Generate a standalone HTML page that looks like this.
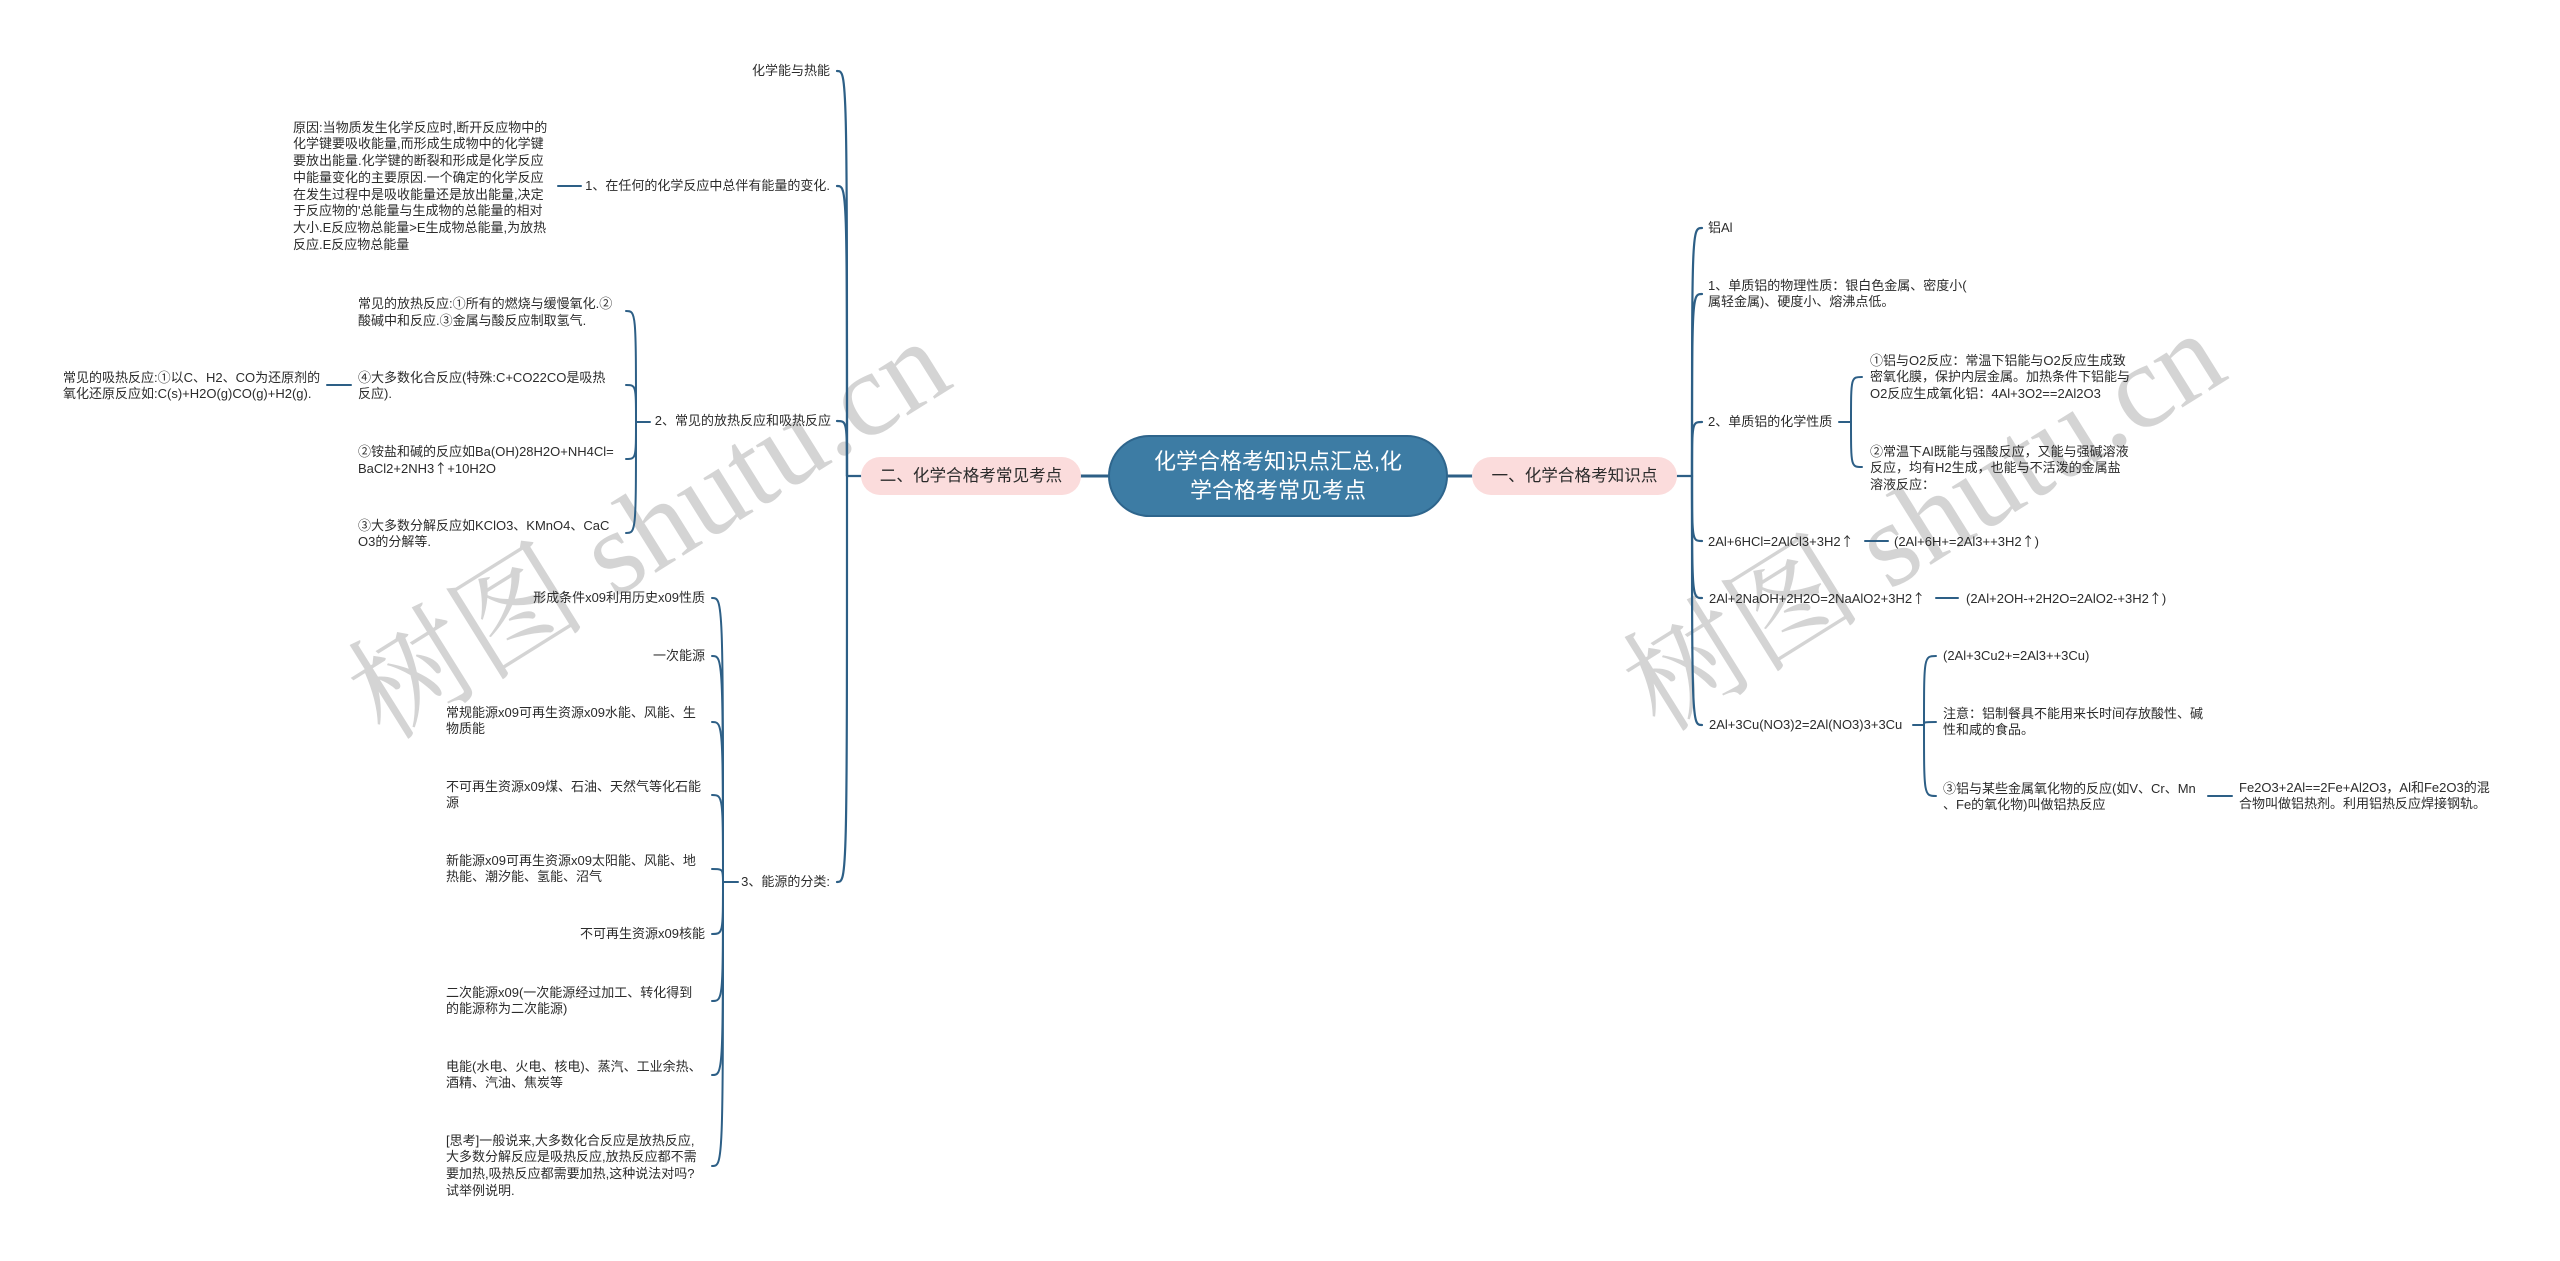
<!DOCTYPE html>
<html>
<head>
<meta charset="utf-8">
<style>
  html,body{margin:0;padding:0;background:#fff;}
  #root{position:relative;width:2560px;height:1261px;overflow:hidden;background:#fff;
    font-family:"Liberation Sans","Noto Sans CJK SC",sans-serif;}
  svg{position:absolute;left:0;top:0;}
  .t{position:absolute;font-size:13px;line-height:16.7px;white-space:nowrap;color:#2b2b2b;}
  .r{text-align:right;}
  .c{font-family:"Noto Sans CJK SC",sans-serif;}
  .center{position:absolute;left:1108px;top:435px;width:340px;height:82px;box-sizing:border-box;
    border-radius:41px;background:#3d7ca4;border:2px solid #2e658c;color:#fff;font-size:22px;line-height:29px;
    display:flex;align-items:center;justify-content:center;text-align:center;}
  .pink{position:absolute;top:457px;height:38px;border-radius:19px;background:#fbdcdc;color:#2b2b2b;
    font-size:16.6px;line-height:38px;text-align:center;white-space:nowrap;}
</style>
</head>
<body>
<div id="root">
<svg width="2560" height="1261" viewBox="0 0 2560 1261">
  <g font-family="'Liberation Serif','Noto Serif CJK SC',serif" font-size="120" fill="#000" fill-opacity="0.17">
    <text x="385" y="742" transform="rotate(-32 385 742)">树图 shutu.cn</text>
    <text x="1660" y="734" transform="rotate(-32 1660 734)">树图 shutu.cn</text>
  </g>
  <g fill="none" stroke="#2d5f86" stroke-linecap="round">
    <line x1="1081" y1="476" x2="1108" y2="476" stroke-width="3"/>
    <line x1="1448" y1="476" x2="1472" y2="476" stroke-width="3"/>
    <g stroke-width="2.2">
      <line x1="861" y1="476" x2="847" y2="476"/>
      <path d="M847 476 C847 71 847 71 837 71"/>
      <path d="M847 476 C847 186 847 186 837 186"/>
      <path d="M847 476 C847 421 847 421 837 421"/>
      <path d="M847 476 C847 882 847 882 837 882"/>
    </g>
    <g stroke-width="2.2">
      <line x1="1677" y1="476" x2="1692" y2="476"/>
      <path d="M1692 476 C1692 228 1692 228 1702 228"/>
      <path d="M1692 476 C1692 294 1692 294 1702 294"/>
      <path d="M1692 476 C1692 422 1692 422 1702 422"/>
      <path d="M1692 476 C1692 541 1692 541 1702 541"/>
      <path d="M1692 476 C1692 598 1692 598 1702 598"/>
      <path d="M1692 476 C1692 725 1692 725 1702 725"/>
    </g>
    <g stroke-width="2">
      <line x1="558" y1="186" x2="581" y2="186"/>
      <line x1="327" y1="385" x2="351" y2="385"/>
      <line x1="1865" y1="541" x2="1888" y2="541"/>
      <line x1="1936" y1="598" x2="1958" y2="598"/>
      <line x1="2208" y1="796" x2="2232" y2="796"/>
      <line x1="650" y1="422" x2="636" y2="422"/>
      <path d="M636 422 C636 311 636 311 626 311"/>
      <path d="M636 422 C636 385 636 385 626 385"/>
      <path d="M636 422 C636 459 636 459 626 459"/>
      <path d="M636 422 C636 533 636 533 626 533"/>
      <line x1="738" y1="882" x2="723" y2="882"/>
      <path d="M723 882 C723 598 723 598 712 598"/>
      <path d="M723 882 C723 656 723 656 712 656"/>
      <path d="M723 882 C723 722 723 722 712 722"/>
      <path d="M723 882 C723 795 723 795 712 795"/>
      <path d="M723 882 C723 869 723 869 712 869"/>
      <path d="M723 882 C723 934 723 934 712 934"/>
      <path d="M723 882 C723 1001 723 1001 712 1001"/>
      <path d="M723 882 C723 1075 723 1075 712 1075"/>
      <path d="M723 882 C723 1166 723 1166 712 1166"/>
      <line x1="1839" y1="422" x2="1851" y2="422"/>
      <path d="M1851 422 C1851 377 1851 377 1862 377"/>
      <path d="M1851 422 C1851 467 1851 467 1862 467"/>
      <line x1="1913" y1="725" x2="1924" y2="725"/>
      <path d="M1924 725 C1924 656 1924 656 1936 656"/>
      <path d="M1924 725 C1924 722 1924 722 1936 722"/>
      <path d="M1924 725 C1924 796 1924 796 1936 796"/>
    </g>
  </g>
</svg>

<div class="center"><div>化学合格考知识点汇总,化<br>学合格考常见考点</div></div>
<div class="pink" style="left:861px;width:220px;">二、化学合格考常见考点</div>
<div class="pink" style="left:1472px;width:205px;">一、化学合格考知识点</div>

<div class="t r" style="right:1730px;top:62.7px;">化学能与热能</div>
<div class="t r" style="right:1730px;top:177.7px;">1、在任何的化学反应中总伴有能量的变化.</div>
<div class="t r" style="right:1729px;top:412.7px;">2、常见的放热反应和吸热反应</div>
<div class="t r" style="right:1730px;top:873.7px;">3、能源的分类:</div>

<div class="t" style="left:293px;top:119.7px;">原因:当物质发生化学反应时,断开反应物中的<br>化学键要吸收能量,而形成生成物中的化学键<br>要放出能量.化学键的断裂和形成是化学反应<br>中能量变化的主要原因.一个确定的化学反应<br>在发生过程中是吸收能量还是放出能量,决定<br>于反应物的'总能量与生成物的总能量的相对<br>大小.E反应物总能量&gt;E生成物总能量,为放热<br>反应.E反应物总能量</div>

<div class="t" style="left:358px;top:294.7px;">常见的放热反应:<span class="c">①</span>所有的燃烧与缓慢氧化.<span class="c">②</span><br>酸碱中和反应.<span class="c">③</span>金属与酸反应制取氢气.</div>
<div class="t" style="left:358px;top:368.7px;"><span class="c">④</span>大多数化合反应(特殊:C+CO22CO是吸热<br>反应).</div>
<div class="t" style="left:358px;top:442.7px;"><span class="c">②</span>铵盐和碱的反应如Ba(OH)28H2O+NH4Cl=<br>BaCl2+2NH3<span class="c">↑</span>+10H2O</div>
<div class="t" style="left:358px;top:516.7px;"><span class="c">③</span>大多数分解反应如KClO3、KMnO4、CaC<br>O3的分解等.</div>
<div class="t" style="left:63px;top:368.7px;">常见的吸热反应:<span class="c">①</span>以C、H2、CO为还原剂的<br>氧化还原反应如:C(s)+H2O(g)CO(g)+H2(g).</div>

<div class="t r" style="right:1855px;top:589.7px;">形成条件x09利用历史x09性质</div>
<div class="t r" style="right:1855px;top:647.7px;">一次能源</div>
<div class="t" style="left:446px;top:704.7px;">常规能源x09可再生资源x09水能、风能、生<br>物质能</div>
<div class="t" style="left:446px;top:778.7px;">不可再生资源x09煤、石油、天然气等化石能<br>源</div>
<div class="t" style="left:446px;top:852.7px;">新能源x09可再生资源x09太阳能、风能、地<br>热能、潮汐能、氢能、沼气</div>
<div class="t r" style="right:1855px;top:925.7px;">不可再生资源x09核能</div>
<div class="t" style="left:446px;top:984.7px;">二次能源x09(一次能源经过加工、转化得到<br>的能源称为二次能源)</div>
<div class="t" style="left:446px;top:1058.7px;">电能(水电、火电、核电)、蒸汽、工业余热、<br>酒精、汽油、焦炭等</div>
<div class="t" style="left:446px;top:1132.7px;">[思考]一般说来,大多数化合反应是放热反应,<br>大多数分解反应是吸热反应,放热反应都不需<br>要加热,吸热反应都需要加热,这种说法对吗?<br>试举例说明.</div>

<div class="t" style="left:1708px;top:219.7px;">铝Al</div>
<div class="t" style="left:1708px;top:277.7px;">1、单质铝的物理性质：银白色金属、密度小(<br>属轻金属)、硬度小、熔沸点低。</div>
<div class="t" style="left:1708px;top:413.7px;">2、单质铝的化学性质</div>
<div class="t" style="left:1870px;top:351.7px;"><span class="c">①</span>铝与O2反应：常温下铝能与O2反应生成致<br>密氧化膜，保护内层金属。加热条件下铝能与<br>O2反应生成氧化铝：4Al+3O2==2Al2O3</div>
<div class="t" style="left:1870px;top:442.7px;"><span class="c">②</span>常温下Al既能与强酸反应，又能与强碱溶液<br>反应，均有H2生成，也能与不活泼的金属盐<br>溶液反应：</div>
<div class="t" style="left:1708px;top:532.7px;">2Al+6HCl=2AlCl3+3H2<span class="c">↑</span></div>
<div class="t" style="left:1894px;top:532.7px;">(2Al+6H+=2Al3++3H2<span class="c">↑</span>)</div>
<div class="t" style="left:1709px;top:589.7px;">2Al+2NaOH+2H2O=2NaAlO2+3H2<span class="c">↑</span></div>
<div class="t" style="left:1966px;top:589.7px;">(2Al+2OH-+2H2O=2AlO2-+3H2<span class="c">↑</span>)</div>
<div class="t" style="left:1709px;top:716.7px;">2Al+3Cu(NO3)2=2Al(NO3)3+3Cu</div>
<div class="t" style="left:1943px;top:647.7px;">(2Al+3Cu2+=2Al3++3Cu)</div>
<div class="t" style="left:1943px;top:705.7px;">注意：铝制餐具不能用来长时间存放酸性、碱<br>性和咸的食品。</div>
<div class="t" style="left:1943px;top:779.7px;"><span class="c">③</span>铝与某些金属氧化物的反应(如V、Cr、Mn<br>、Fe的氧化物)叫做铝热反应</div>
<div class="t" style="left:2239px;top:779.7px;">Fe2O3+2Al==2Fe+Al2O3，Al和Fe2O3的混<br>合物叫做铝热剂。利用铝热反应焊接钢轨。</div>
</div>
</body>
</html>
